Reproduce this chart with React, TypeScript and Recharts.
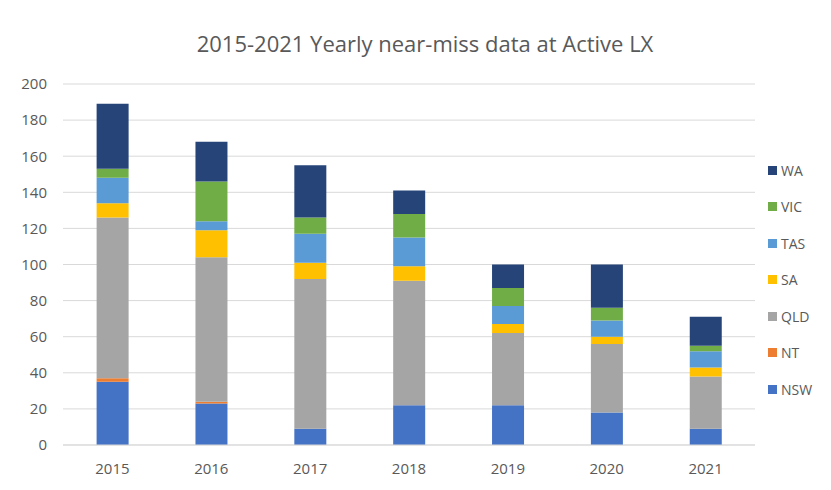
import { Bar, BarChart, CartesianGrid, XAxis, YAxis } from "recharts";

const years = ["2015", "2016", "2017", "2018", "2019", "2020", "2021"];
const nsw = [35, 23, 9, 22, 22, 18, 9];
const nt = [2, 1, 0, 0, 0, 0, 0];
const qld = [89, 80, 83, 69, 40, 38, 29];
const sa = [8, 15, 9, 8, 5, 4, 5];
const tas = [14, 5, 16, 16, 10, 9, 9];
const vic = [5, 22, 9, 13, 10, 7, 3];
const wa = [36, 22, 29, 13, 13, 24, 16];
const yTicks = [0, 20, 40, 60, 80, 100, 120, 140, 160, 180, 200];

const series = [
  { key: "NSW", color: "#4472C4" },
  { key: "NT", color: "#ED7D31" },
  { key: "QLD", color: "#A5A5A5" },
  { key: "SA", color: "#FFC000" },
  { key: "TAS", color: "#5B9BD5" },
  { key: "VIC", color: "#70AD47" },
  { key: "WA", color: "#264478" },
];

const data = years.map((year, i) => ({
  year,
  NSW: nsw[i],
  NT: nt[i],
  QLD: qld[i],
  SA: sa[i],
  TAS: tas[i],
  VIC: vic[i],
  WA: wa[i],
}));

const FONT = "'Open Sans', sans-serif";

function LegendList() {
  return (
    <div style={{ fontFamily: FONT, fontSize: 14, color: "#595959" }}>
      {[...series].reverse().map((s) => (
        <div key={s.key} style={{ display: "flex", alignItems: "center", height: 36.5 }}>
          <span style={{ width: 9, height: 9, background: s.color, marginRight: 4 }} />
          {s.key}
        </div>
      ))}
    </div>
  );
}

export default function App() {
  return (
    <div style={{ position: "relative", width: 831, height: 490, margin: -8, background: "#fff", overflow: "hidden" }}>
      <div
        style={{
          position: "absolute",
          left: 6,
          top: 6,
          width: 840,
          height: 500,
          border: "1px solid #d9d9d9",
          boxSizing: "border-box",
        }}
      />
      <div
        style={{
          position: "absolute",
          top: 28,
          left: 0,
          width: 850,
          textAlign: "center",
          fontFamily: FONT,
          fontSize: 22,
          color: "#595959",
        }}
      >
        2015-2021 Yearly near-miss data at Active LX
      </div>
      <BarChart
        width={831}
        height={490}
        data={data}
        margin={{ top: 84, right: 76, bottom: 15, left: 8 }}
        barCategoryGap="34%"
        style={{ position: "absolute", left: 0, top: 0 }}
      >
        <CartesianGrid vertical={false} stroke="#d9d9d9" />
        <XAxis
          dataKey="year"
          axisLine={{ stroke: "#d9d9d9" }}
          tickLine={false}
          tick={{ fontSize: 15, fill: "#595959", fontFamily: FONT }}
          tickMargin={12}
        />
        <YAxis
          domain={[0, 200]}
          ticks={yTicks}
          width={55}
          axisLine={false}
          tickLine={false}
          tickSize={0}
          tickMargin={16}
          tick={{ fontSize: 15, fill: "#595959", fontFamily: FONT }}
        />
        {series.map((s) => (
          <Bar key={s.key} dataKey={s.key} stackId="a" fill={s.color} isAnimationActive={false} />
        ))}
      </BarChart>
      <div style={{ position: "absolute", left: 768, top: 152 }}>
        <LegendList />
      </div>
    </div>
  );
}
